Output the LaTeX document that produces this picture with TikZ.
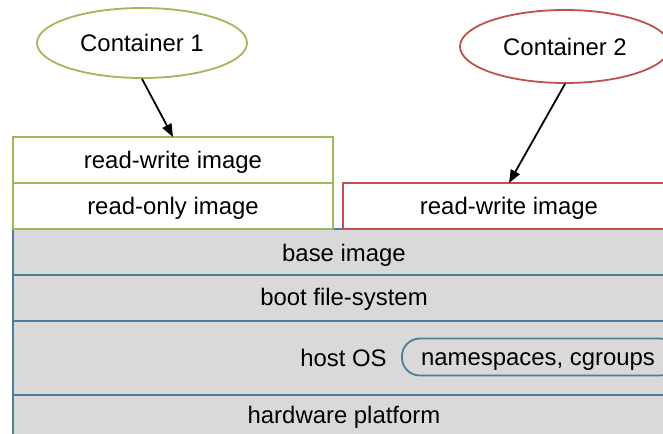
\documentclass[tikz,border=0pt]{standalone}
\usepackage{fontspec}
\setmainfont{Liberation Sans}
\usetikzlibrary{shapes.geometric,arrows.meta}
\definecolor{ctgreen}{HTML}{9BBB59}
\definecolor{ctred}{HTML}{C0504D}
\definecolor{ctblue}{HTML}{4A7E9B}
\definecolor{ctgray}{HTML}{D9D9D9}
\tikzset{
  txt/.style={font=\fontsize{24}{28}\selectfont, inner sep=0pt, anchor=base},
  layer/.style={draw=ctblue, fill=ctgray, line width=1.8bp, minimum width=662bp,
    anchor=north west, inner sep=0pt, outer sep=0pt},
  cbox/.style={draw=#1, fill=white, line width=1.8bp, anchor=north west,
    inner sep=0pt, outer sep=0pt},
  cont/.style={ellipse, draw=#1, fill=white, line width=1.8bp, inner sep=0pt,
    font=\fontsize{24}{28}\selectfont},
  ptr/.style={-{Triangle[length=13bp,width=10bp]}, line width=1.8bp, black},
}
\begin{document}
\begin{tikzpicture}[x=1bp,y=-1bp]
\clip (0,0) rectangle (663,434);
\fill[white] (0,0) rectangle (663,434);

% shared layers
\node[layer, minimum height=46bp] (base) at (13,229) {};
\node[layer, minimum height=46bp] (boot) at (13,275) {};
\node[layer, minimum height=74bp] (host) at (13,321) {};
\node[layer, minimum height=50bp] (hw) at (13,395) {};
\node[txt] (basetxt) at (344,261.7) {base image};
\node[txt] (boottxt) at (344,306) {boot file-system};
\node[txt] (hosttxt) at (343.5,366) {host OS};
\node[txt] (hwtxt) at (344,423) {hardware platform};
\node[draw=ctblue, fill=ctgray, line width=1.8bp, rounded corners=18bp,
  minimum width=276bp, minimum height=37bp, inner sep=0pt, anchor=west] (ns) at (401,357) {};
\node[txt] (nstxt) at (538,365) {namespaces, cgroups};

% container 1 layers
\node[cbox=ctgreen, minimum width=320bp, minimum height=46bp] (rw1) at (13,137) {};
\node[cbox=ctgreen, minimum width=320bp, minimum height=46bp] (ro1) at (13,183) {};
\node[txt] (rw1txt) at (173,169) {read-write image};
\node[txt] (ro1txt) at (173,215) {read-only image};

% container 2 layer
\node[cbox=ctred, minimum width=332bp, minimum height=46bp] (rw2) at (343,183) {};
\node[txt] (rw2txt) at (509,215) {read-write image};

% containers
\node[cont=ctgreen, minimum width=210bp, minimum height=70bp] (c1) at (142,43) {Container 1};
\node[cont=ctred, minimum width=210bp, minimum height=73bp] (c2) at (565,46.5) {Container 2};

\draw[ptr] (c1.south) -- (rw1.north);
\draw[ptr] (c2.south) -- (rw2.north);
\end{tikzpicture}
\end{document}
